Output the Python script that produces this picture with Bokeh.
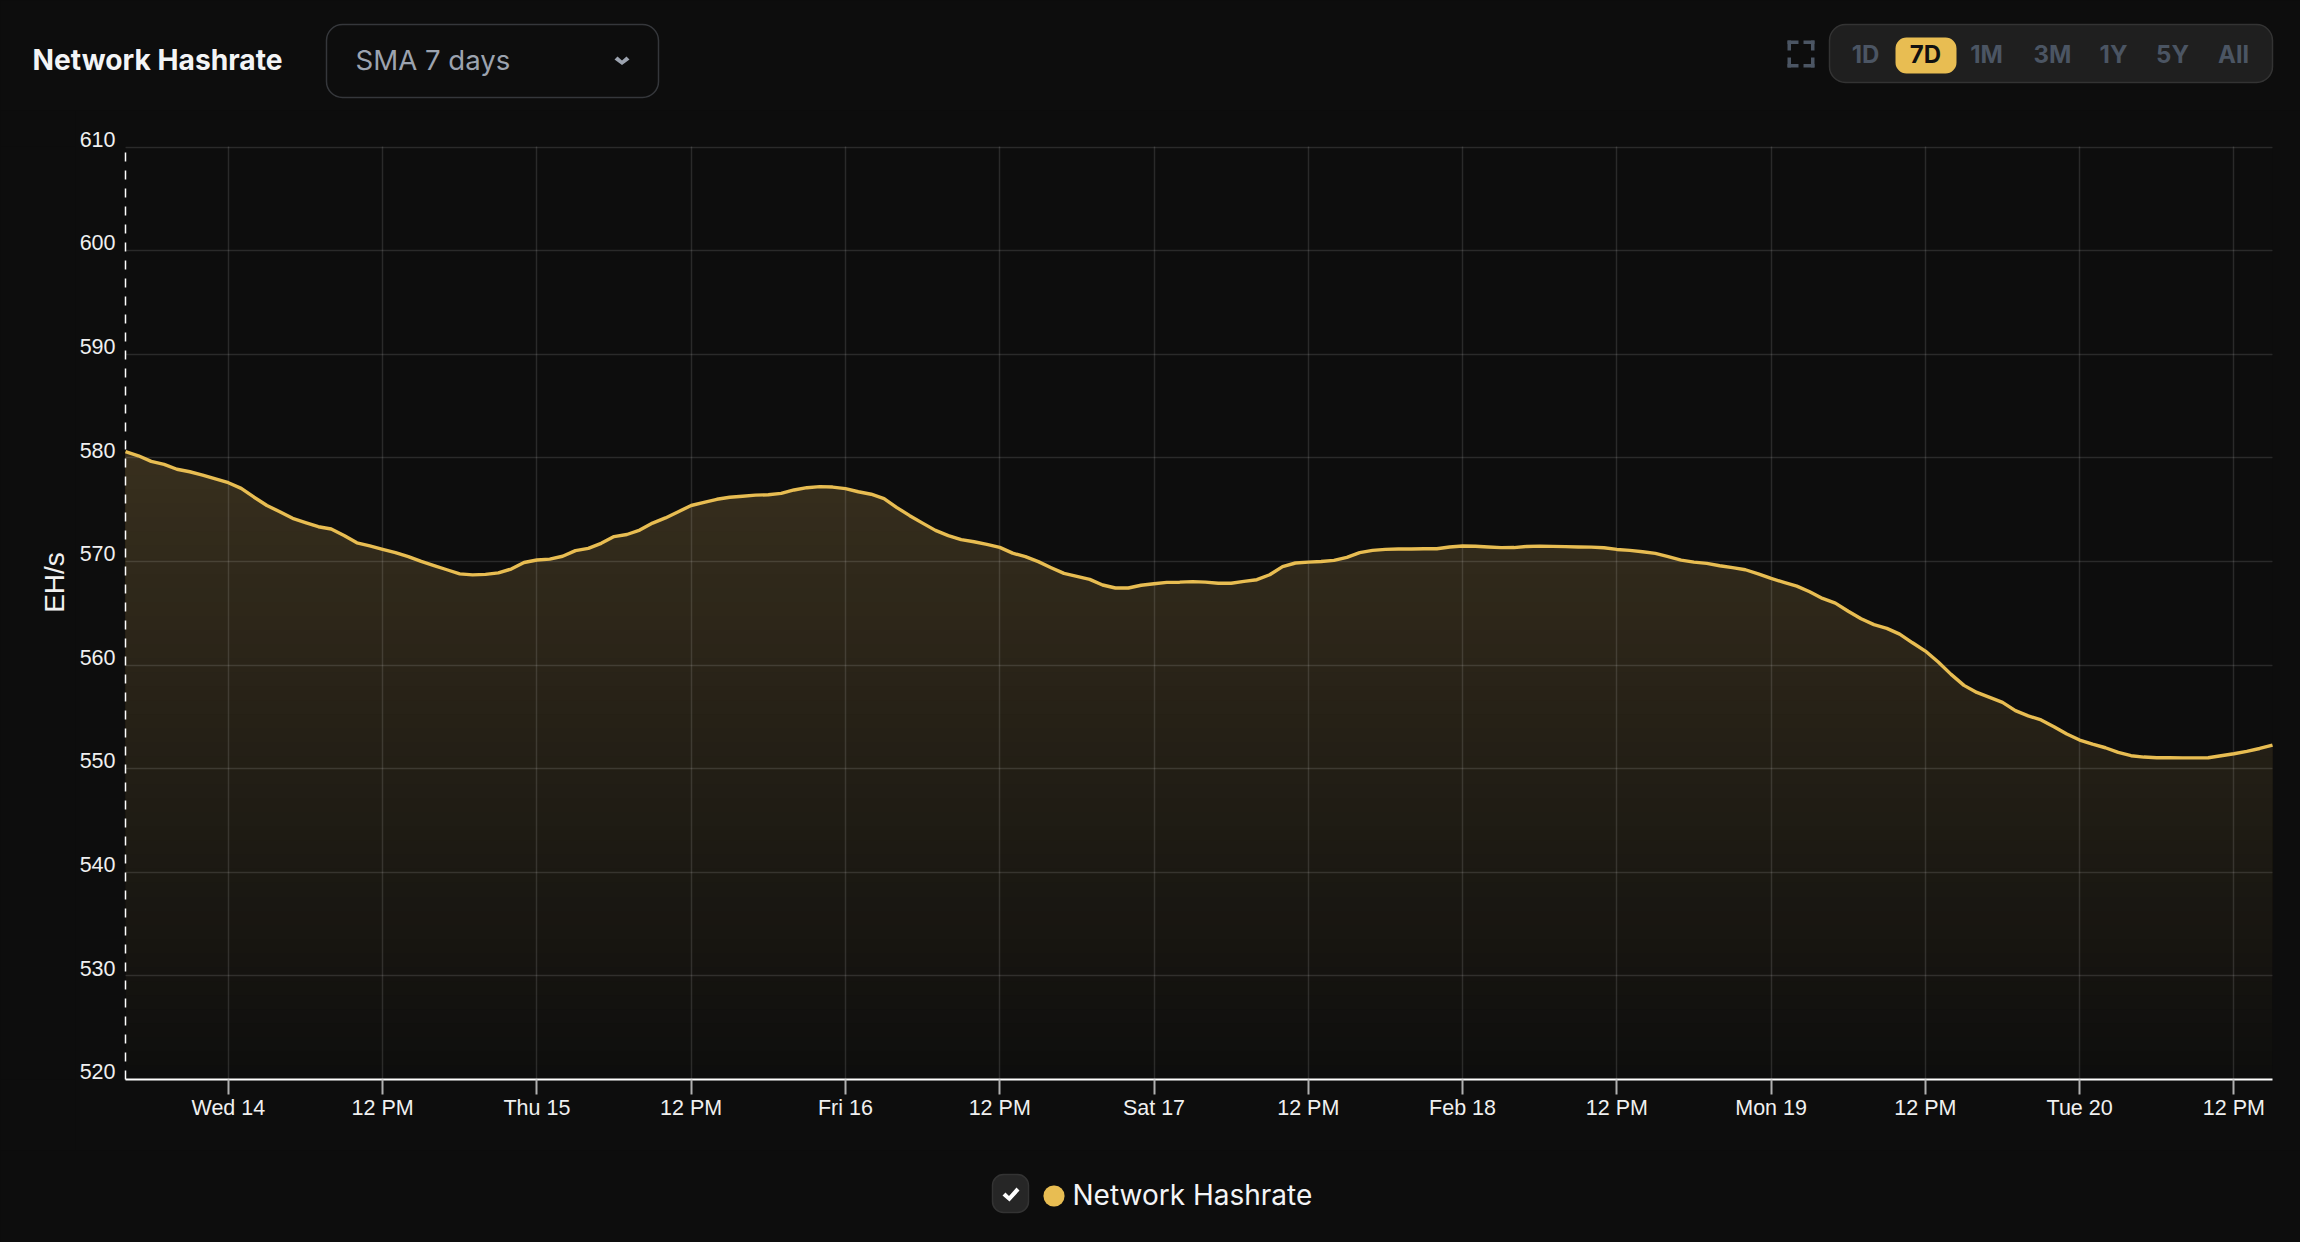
import math
import numpy as np
from bokeh.core.properties import value
from bokeh.embed import file_html
from bokeh.layouts import column, row
from bokeh.resources import INLINE
from bokeh.plotting import figure
from bokeh.models import FixedTicker, Range1d

# ---- data ----
hours = list(range(-8, 160))   # hours from Wed 14 00:00, one reading per hour
hashrate = [
    580.6, 580.2, 579.66, 579.37, 578.9, 578.66, 578.34, 577.96,
    577.6, 577.05, 576.2, 575.4, 574.8, 574.16, 573.74, 573.35, 573.13, 572.5, 571.8, 571.5,
    571.17, 570.85, 570.46, 570.0, 569.6, 569.2, 568.8, 568.7, 568.75, 568.9, 569.27, 569.9,
    570.14, 570.23, 570.5, 571.04, 571.26, 571.75, 572.4, 572.6, 573.03, 573.7, 574.2, 574.8,
    575.4, 575.7, 576.0, 576.2, 576.3, 576.4, 576.44, 576.57, 576.9, 577.12, 577.22, 577.18,
    577.03, 576.73, 576.49, 576.06, 575.2, 574.42, 573.7, 573.0, 572.5, 572.1, 571.9, 571.65,
    571.36, 570.8, 570.46, 569.98, 569.4, 568.85, 568.56, 568.27, 567.73, 567.44, 567.44, 567.7,
    567.85, 567.98, 568.0, 568.05, 568.0, 567.9, 567.9, 568.08, 568.24, 568.72, 569.5, 569.85,
    569.94, 570.0, 570.1, 570.4, 570.85, 571.07, 571.17, 571.2, 571.2, 571.23, 571.23, 571.4,
    571.49, 571.47, 571.4, 571.33, 571.34, 571.45, 571.48, 571.46, 571.43, 571.4, 571.38, 571.32,
    571.16, 571.07, 570.94, 570.78, 570.46, 570.13, 569.94, 569.81, 569.59, 569.4, 569.2, 568.8,
    568.36, 567.98, 567.62, 567.08, 566.43, 565.98, 565.2, 564.47, 563.9, 563.54, 562.99, 562.15,
    561.35, 560.29, 559.1, 558.04, 557.36, 556.88, 556.4, 555.6, 555.1, 554.7, 554.05, 553.34,
    552.76, 552.37, 552.02, 551.57, 551.25, 551.12, 551.05, 551.05, 551.04, 551.04, 551.05, 551.25,
    551.44, 551.67, 551.95, 552.28,
]
x_tick_hours = [0, 12, 24, 36, 48, 60, 72, 84, 96, 108, 120, 132, 144, 156]
x_tick_labels = ["Wed 14", "12 PM", "Thu 15", "12 PM", "Fri 16", "12 PM", "Sat 17", "12 PM",
                 "Feb 18", "12 PM", "Mon 19", "12 PM", "Tue 20", "12 PM"]
y_ticks = [520, 530, 540, 550, 560, 570, 580, 590, 600, 610]
range_buttons = ["1D", "7D", "1M", "3M", "1Y", "5Y", "All"]
series_name = "Network Hashrate"
selector_text = "SMA 7 days"
y_title = "EH/s"

BG = "#0d0d0d"
GOLD = "#e8bd52"
MUTED = "#4b5563"
W = 2300
HEAD_H, MAIN_H, LEG_H = 110, 1040, 92
STRIP_W = 75

p = figure(width=W - STRIP_W, height=MAIN_H, output_backend="svg", toolbar_location=None,
           x_range=Range1d(-8, 159), y_range=Range1d(520, 610.05),
           background_fill_color=BG, border_fill_color=BG, outline_line_color=None,
           min_border_left=125 - STRIP_W, min_border_right=28, min_border_top=36, min_border_bottom=71)

# area gradient: stacked slices from the baseline up to the curve
val = np.array(hashrate)
levels = np.linspace(520, 581, 46)
c0 = np.array([14, 14, 13])
c1 = np.array([57, 48, 30])
for lvl in levels:
    t = (lvl - 520) / 61
    r, g_, b = (c0 + (c1 - c0) * t).round().astype(int)
    p.varea(x=hours, y1=np.minimum(val, lvl), y2=val, fill_color=f"#{r:02x}{g_:02x}{b:02x}", fill_alpha=1)

line = p.line(hours, hashrate, line_color=GOLD, line_width=3.4, line_join="round")
line.level = "overlay"

# axes and grid
p.xaxis.ticker = FixedTicker(ticks=x_tick_hours)
p.xaxis.major_label_overrides = dict(zip(x_tick_hours, x_tick_labels))
p.yaxis.ticker = FixedTicker(ticks=y_ticks)
p.yaxis.major_label_overrides = {v: f"{v}\n" for v in y_ticks}
p.yaxis.major_label_text_line_height = 0.6
for ax in (p.xaxis[0], p.yaxis[0]):
    ax.major_label_text_color = "#f0f0f0"
    ax.major_label_text_font = "Liberation Sans"
    ax.major_label_text_font_size = "21.5px"
    ax.minor_tick_line_color = None
p.xaxis.axis_line_color = "#ffffff"
p.xaxis.axis_line_width = 2
p.xaxis.major_tick_line_color = "#b0b0b0"
p.xaxis.major_tick_line_width = 2
p.xaxis.major_tick_in = 0
p.xaxis.major_tick_out = 15
p.xaxis.major_label_standoff = 1
p.yaxis.axis_line_color = "#ffffff"
p.yaxis.axis_line_width = 1.5
p.yaxis.axis_line_dash = [9, 9]
p.yaxis.major_tick_line_color = None
p.yaxis.major_label_standoff = 4
p.grid.grid_line_color = "#ffffff"
p.grid.grid_line_alpha = 0.12
p.grid.grid_line_width = 1.5
p.grid.level = "guide"


def panel(width, height, x_start, y_start):
    f = figure(width=width, height=height, output_backend="svg", toolbar_location=None,
               x_range=Range1d(x_start, x_start + width), y_range=Range1d(y_start + height, y_start),
               x_axis_type=None, y_axis_type=None, background_fill_color=BG, border_fill_color=BG,
               outline_line_color=None, min_border_left=0, min_border_right=0,
               min_border_top=0, min_border_bottom=0)
    f.grid.visible = False
    return f


def box(f, l, r, t, b, fill, radius=0, border=None):
    f.quad(left=[l], right=[r], top=[t], bottom=[b], fill_color=fill,
           line_color=border if border else fill, line_width=1.5 if border else 0,
           border_radius=radius)


def text(f, x, y, s, size, color, style="normal", align="left", font="Inter", angle=0):
    f.text(x=[x], y=[y], text=[s], text_font=value(font), text_font_size=f"{size}px", text_color=color,
           text_font_style=style, text_align=align, text_baseline="middle", angle=angle)


# header
h = panel(W, HEAD_H, 0, 0)
text(h, 32, 59, series_name, 28.2, "#f3f4f6", "bold")
box(h, 326, 658, 24, 97, BG, 16, "#35373b")
text(h, 355, 59, selector_text, 27.6, "#9ca3af")
h.patch([614, 617, 621.5, 626, 629, 621.5], [59, 56, 60, 56, 59, 64.5], fill_color="#9ca3af", line_color=None)
for (a, b2, c, d) in [(1787, 1798, 40, 43.5), (1787, 1790.5, 40, 50), (1803, 1814, 40, 43.5), (1810.5, 1814, 40, 50),
                      (1787, 1798, 63.5, 67), (1787, 1790.5, 57, 67), (1803, 1814, 63.5, 67), (1810.5, 1814, 57, 67)]:
    box(h, a, b2, c, d, MUTED)
box(h, 1829, 2272, 24, 82, "#1f1f1f", 16, "#333333")
box(h, 1895, 1956, 37, 73, GOLD, 11)
for lab, xc in zip(range_buttons, [1865, 1925, 1986, 2052, 2113, 2172, 2233]):
    text(h, xc, 54, lab, 24, "#111111" if lab == "7D" else MUTED, "bold", "center")

# y-axis title strip
s = panel(STRIP_W, MAIN_H, 0, HEAD_H)
text(s, 54, 596, y_title, 28, "#f0f0f0", align="center", font="Liberation Sans", angle=math.pi / 2)

# legend
g = panel(W, LEG_H, 0, 1150)
box(g, 992, 1028, 1174, 1212, "#262626", 11, "#333333")
g.patch([1002, 1005, 1008.5, 1016, 1019, 1009], [1195, 1192, 1195.5, 1187, 1190, 1201], fill_color="#ffffff", line_color=None)
box(g, 1043, 1064, 1185, 1206, GOLD, 10)
text(g, 1072, 1194, series_name, 28, "#f3f4f6")

page = column(h, row(s, p, spacing=0), g, spacing=0)
html = file_html(page, INLINE)
html = html.replace("<head>", f"<head><style>html,body{{background:{BG};}}</style>", 1)
open("out.html", "w").write(html)
